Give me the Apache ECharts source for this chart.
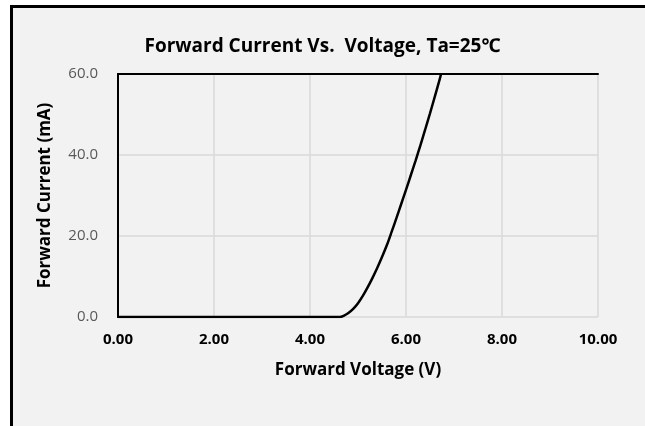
<!DOCTYPE html>
<html>
<head>
<meta charset="utf-8">
<script src="https://cdn.jsdelivr.net/npm/echarts@6/dist/echarts.min.js"></script>
<style>
  html, body { margin: 0; padding: 0; background: #fff; }
  #frame {
    position: absolute; left: 10px; top: 5px; width: 700px; height: 500px;
    border-left: 3px solid #000; border-top: 3px solid #000; background: #f2f2f2;
  }
  #chart { position: absolute; left: 0; top: 0; width: 645px; height: 426px; }
</style>
</head>
<body>
<div id="frame"></div>
<div id="chart"></div>
<script>
// forward voltage (V) vs forward current (mA)
const voltage = [0, 1, 2, 3, 4, 4.5, 4.62, 4.7, 4.8, 4.9, 5.0, 5.1, 5.2, 5.3, 5.4, 5.5, 5.6, 5.7, 5.8, 5.9, 6.0, 6.1, 6.2, 6.3, 6.4, 6.5, 6.6, 6.7, 6.73];
const current = [0, 0, 0, 0, 0, 0, 0, 0.3, 1.0, 2.0, 3.4, 5.2, 7.3, 9.6, 12.1, 14.8, 17.7, 21.0, 24.4, 27.9, 31.4, 35.0, 38.6, 42.4, 46.3, 50.3, 54.4, 58.6, 60];

const font = '"Open Sans", "Noto Sans", sans-serif';

const chart = echarts.init(document.getElementById('chart'));
chart.setOption({
    backgroundColor: 'transparent',
    animation: false,
    title: {
        text: 'Forward Current Vs.  Voltage, Ta=25℃',
        left: 'center',
        top: 32,
        textStyle: { fontFamily: font, fontSize: 19, fontWeight: 'bold', color: '#000' }
    },
    grid: { left: 118, right: 47, top: 74, bottom: 109 },
    xAxis: [{
        type: 'value', min: 0, max: 10, interval: 2,
        name: 'Forward Voltage (V)', nameLocation: 'middle', nameGap: 45,
        nameTextStyle: { fontFamily: font, fontSize: 17, fontWeight: 'bold', color: '#000' },
        axisLine: { show: false },
        axisTick: { show: false },
        axisLabel: {
            margin: 15, fontFamily: font, fontSize: 15, fontWeight: 'bold', color: '#000',
            formatter: v => v.toFixed(2)
        },
        splitLine: { show: true, lineStyle: { color: '#d9d9d9', width: 1.5 } }
    }, {
        type: 'value', min: 0, max: 10, position: 'top',
        axisLine: { show: true, onZero: false, lineStyle: { color: '#000', width: 2 } },
        axisTick: { show: false }, axisLabel: { show: false }, splitLine: { show: false }
    }],
    yAxis: [{
        type: 'value', min: 0, max: 60, interval: 20,
        name: 'Forward Current (mA)', nameLocation: 'middle', nameGap: 64,
        nameTextStyle: { fontFamily: font, fontSize: 17, fontWeight: 'bold', color: '#000' },
        axisLine: { show: true, lineStyle: { color: '#000', width: 2 } },
        axisTick: { show: false },
        axisLabel: {
            margin: 20, fontFamily: font, fontSize: 15, color: '#595959',
            formatter: v => v.toFixed(1)
        },
        splitLine: { show: true, lineStyle: { color: '#d9d9d9', width: 1.5 } }
    }, {
        type: 'value', min: 0, max: 60, position: 'right',
        axisLine: { show: true, lineStyle: { color: '#000', width: 2 } },
        axisTick: { show: false }, axisLabel: { show: false }, splitLine: { show: false }
    }],
    series: [{
        type: 'line',
        data: voltage.map((v, i) => [v, current[i]]),
        showSymbol: false,
        smooth: 0.3,
        lineStyle: { color: '#000', width: 2.5 },
        z: 5
    }]
});
</script>
</body>
</html>
